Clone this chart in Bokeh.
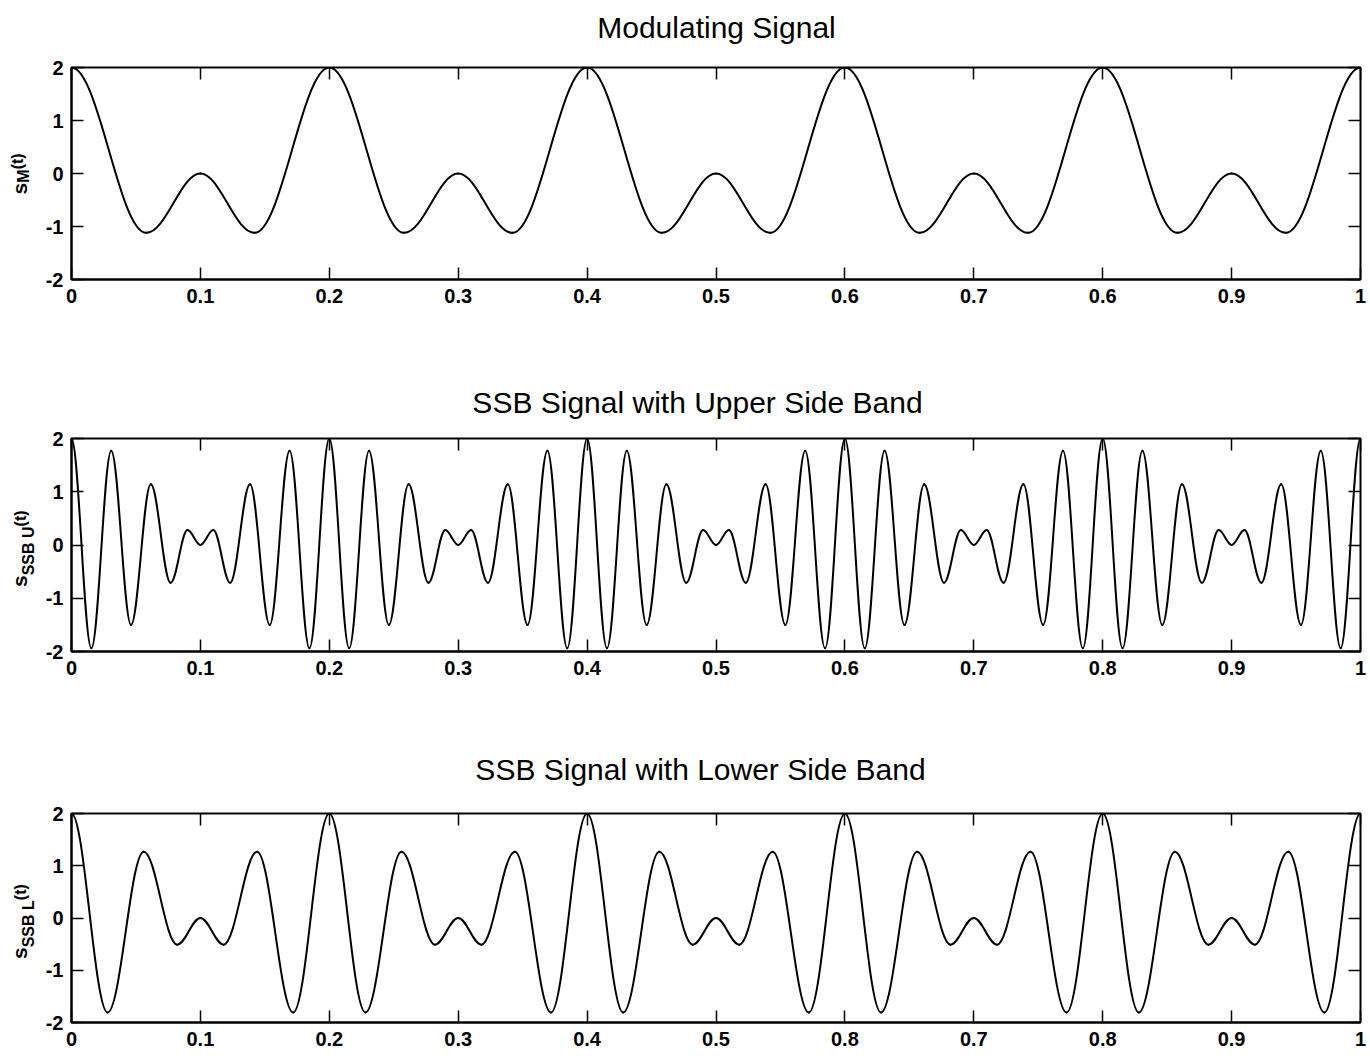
import math
from bokeh.plotting import figure
from bokeh.models import ColumnDataSource, Range1d, FixedTicker, LinearAxis
from bokeh.layouts import column, row
from bokeh.core.properties import value
from bokeh.embed import file_html
from bokeh.resources import INLINE

# ---------------- data ----------------
titles = ["Modulating Signal",
          "SSB Signal with Upper Side Band",
          "SSB Signal with Lower Side Band"]

x_ticks = [0, 0.1, 0.2, 0.3, 0.4, 0.5, 0.6, 0.7, 0.8, 0.9, 1]
x_labels_top = ["0", "0.1", "0.2", "0.3", "0.4", "0.5", "0.6", "0.7", "0.6", "0.9", "1"]
x_labels_mid = ["0", "0.1", "0.2", "0.3", "0.4", "0.5", "0.6", "0.7", "0.8", "0.9", "1"]
x_labels_bot = ["0", "0.1", "0.2", "0.3", "0.4", "0.5", "0.8", "0.7", "0.8", "0.9", "1"]
y_ticks = [-2, -1, 0, 1, 2]
y_labels = ["-2", "-1", "0", "1", "2"]

# Modulating signal: turning points (t, value)
mod_t = [0.000, 0.058, 0.100, 0.142, 0.200,
         0.258, 0.300, 0.342, 0.400,
         0.458, 0.500, 0.542, 0.600,
         0.658, 0.700, 0.742, 0.800,
         0.858, 0.900, 0.942, 1.000]
mod_v = [2.00, -1.12, 0.00, -1.12, 2.00,
         -1.12, 0.00, -1.12, 2.00,
         -1.12, 0.00, -1.12, 2.00,
         -1.12, 0.00, -1.12, 2.00,
         -1.12, 0.00, -1.12, 2.00]

# SSB upper side band: turning points
usb_t = [0.0000, 0.0154, 0.0308, 0.0462, 0.0615, 0.0769, 0.0900, 0.1000, 0.1100, 0.1231, 0.1385, 0.1538, 0.1692, 0.1846,
         0.2000, 0.2154, 0.2308, 0.2462, 0.2615, 0.2769, 0.2900, 0.3000, 0.3100, 0.3231, 0.3385, 0.3538, 0.3692, 0.3846,
         0.4000, 0.4154, 0.4308, 0.4462, 0.4615, 0.4769, 0.4900, 0.5000, 0.5100, 0.5231, 0.5385, 0.5538, 0.5692, 0.5846,
         0.6000, 0.6154, 0.6308, 0.6462, 0.6615, 0.6769, 0.6900, 0.7000, 0.7100, 0.7231, 0.7385, 0.7538, 0.7692, 0.7846,
         0.8000, 0.8154, 0.8308, 0.8462, 0.8615, 0.8769, 0.8900, 0.9000, 0.9100, 0.9231, 0.9385, 0.9538, 0.9692, 0.9846,
         1.0000]
usb_v = [2.00, -1.94, 1.77, -1.50, 1.14, -0.71, 0.28, 0.00, 0.28, -0.71, 1.14, -1.50, 1.77, -1.94,
         2.00, -1.94, 1.77, -1.50, 1.14, -0.71, 0.28, 0.00, 0.28, -0.71, 1.14, -1.50, 1.77, -1.94,
         2.00, -1.94, 1.77, -1.50, 1.14, -0.71, 0.28, 0.00, 0.28, -0.71, 1.14, -1.50, 1.77, -1.94,
         2.00, -1.94, 1.77, -1.50, 1.14, -0.71, 0.28, 0.00, 0.28, -0.71, 1.14, -1.50, 1.77, -1.94,
         2.00, -1.94, 1.77, -1.50, 1.14, -0.71, 0.28, 0.00, 0.28, -0.71, 1.14, -1.50, 1.77, -1.94,
         2.00]

# SSB lower side band: turning points
lsb_t = [0.000, 0.028, 0.056, 0.082, 0.100, 0.118, 0.144, 0.172,
         0.200, 0.228, 0.256, 0.282, 0.300, 0.318, 0.344, 0.372,
         0.400, 0.428, 0.456, 0.482, 0.500, 0.518, 0.544, 0.572,
         0.600, 0.628, 0.656, 0.682, 0.700, 0.718, 0.744, 0.772,
         0.800, 0.828, 0.856, 0.882, 0.900, 0.918, 0.944, 0.972,
         1.000]
lsb_v = [2.00, -1.81, 1.27, -0.51, 0.00, -0.51, 1.27, -1.81,
         2.00, -1.81, 1.27, -0.51, 0.00, -0.51, 1.27, -1.81,
         2.00, -1.81, 1.27, -0.51, 0.00, -0.51, 1.27, -1.81,
         2.00, -1.81, 1.27, -0.51, 0.00, -0.51, 1.27, -1.81,
         2.00, -1.81, 1.27, -0.51, 0.00, -0.51, 1.27, -1.81,
         2.00]

# ---------------- rendering ----------------
BEZ = 1 - 2 / math.pi  # control-point fraction for smooth half-wave segments
FONT = "Liberation Sans"
PAGE_W = 1369
SIDE_W = 42            # strip carrying the y-axis label
FRAME_L = 69           # left edge of every frame on the page
FRAME_R = 1360         # right edge of every frame on the page
TITLE_H = 53           # strip carrying the title
TOP_B = 14             # space between title strip and frame


def blank_fig(width, height, xr, yr, **kw):
    f = figure(width=width, height=height, x_range=xr, y_range=yr,
               output_backend="svg", toolbar_location=None,
               x_axis_type=None, y_axis_type=None,
               min_border_left=0, min_border_right=0,
               outline_line_color=None,
               background_fill_color="white", border_fill_color="white", **kw)
    f.xgrid.visible = False
    f.ygrid.visible = False
    return f


def title_strip(text, cx, base_y):
    t = blank_fig(PAGE_W, TITLE_H, Range1d(0, PAGE_W), Range1d(0, TITLE_H),
                  min_border_top=0, min_border_bottom=0)
    t.text(x=[cx], y=[base_y], text=[text], text_align="center",
           text_baseline="alphabetic", text_font=value(FONT),
           text_font_size=value("30px"), text_color="black")
    return t


def curve_source(ts, vs):
    x0, x1 = ts[:-1], ts[1:]
    y0, y1 = vs[:-1], vs[1:]
    cx0 = [a + BEZ * (b - a) for a, b in zip(x0, x1)]
    cx1 = [b - BEZ * (b - a) for a, b in zip(x0, x1)]
    return ColumnDataSource(dict(x0=x0, y0=y0, x1=x1, y1=y1,
                                 cx0=cx0, cy0=y0, cx1=cx1, cy1=y1))


def style_axis(ax, ticks, labels, show_labels, standoff):
    ax.ticker = FixedTicker(ticks=ticks)
    ax.major_tick_in = 12
    ax.major_tick_out = 0
    ax.major_tick_line_color = "black"
    ax.major_tick_line_width = 1.5
    ax.minor_tick_line_color = None
    ax.axis_line_color = "black"
    ax.axis_line_width = 2
    ax.major_label_standoff = standoff
    if show_labels:
        ax.major_label_overrides = dict(zip(ticks, labels))
        ax.major_label_text_font = FONT
        ax.major_label_text_font_size = "20px"
        ax.major_label_text_font_style = "bold"
        ax.major_label_text_color = "black"
    else:
        ax.major_label_overrides = {t: "" for t in ticks}
        ax.major_label_text_font_size = "0px"


def label_strip(height, frame_h, border_bottom, pieces):
    s = blank_fig(SIDE_W, height, Range1d(0, SIDE_W), Range1d(-frame_h / 2, frame_h / 2),
                  min_border_top=TOP_B, min_border_bottom=border_bottom)
    for text, size, bx, by in pieces:
        s.text(x=[bx], y=[by], text=[text], angle=math.pi / 2,
               text_align="left", text_baseline="alphabetic",
               text_font=value(FONT), text_font_size=value(size),
               text_font_style="bold", text_color="black")
    return s


def make_panel(title, title_cx, title_base, ts, vs, xlabels, frame_h, border_bottom, pieces):
    height = TOP_B + frame_h + border_bottom
    p = figure(width=PAGE_W - SIDE_W, height=height,
               x_range=Range1d(0, 1), y_range=Range1d(-2, 2),
               output_backend="svg", toolbar_location=None,
               min_border_left=FRAME_L - SIDE_W, min_border_right=PAGE_W - FRAME_R,
               min_border_top=TOP_B, min_border_bottom=border_bottom,
               background_fill_color="white", border_fill_color="white")
    p.xgrid.visible = False
    p.ygrid.visible = False
    p.outline_line_color = "black"
    p.outline_line_width = 2
    p.outline_line_alpha = 1.0

    style_axis(p.xaxis[0], x_ticks, xlabels, True, 9)
    style_axis(p.yaxis[0], y_ticks, y_labels, True, 8)

    top = LinearAxis()
    style_axis(top, x_ticks, xlabels, False, 0)
    top.axis_line_color = None
    p.add_layout(top, "above")
    right = LinearAxis()
    style_axis(right, y_ticks, y_labels, False, 0)
    right.axis_line_color = None
    p.add_layout(right, "right")

    p.bezier(x0="x0", y0="y0", x1="x1", y1="y1",
             cx0="cx0", cy0="cy0", cx1="cx1", cy1="cy1",
             source=curve_source(ts, vs),
             line_color="black", line_width=2, line_cap="round")

    strip = label_strip(height, frame_h, border_bottom, pieces)
    return column(title_strip(title, title_cx, title_base), row(strip, p, spacing=0), spacing=0)


r1 = make_panel(titles[0], 716, 26, mod_t, mod_v, x_labels_top, 212, 92,
                [("s", "21px", 19, -21), ("M", "16px", 23, -9.3), ("(t)", "16px", 17, 4.2)])
r2 = make_panel(titles[1], 697, 22, usb_t, usb_v, x_labels_mid, 213, 95,
                [("s", "21px", 19, -42), ("SSB U", "16px", 28, -30.3), ("(t)", "16px", 20, 18.6)])
r3 = make_panel(titles[2], 700, 30, lsb_t, lsb_v, x_labels_bot, 209, 34,
                [("s", "21px", 19, -41), ("SSB L", "16px", 28, -29.3), ("(t)", "16px", 20, 17.8)])

layout = column(r1, r2, r3, spacing=0)

with open("out.html", "w") as f:
    f.write(file_html(layout, INLINE, title="SSB signals"))
